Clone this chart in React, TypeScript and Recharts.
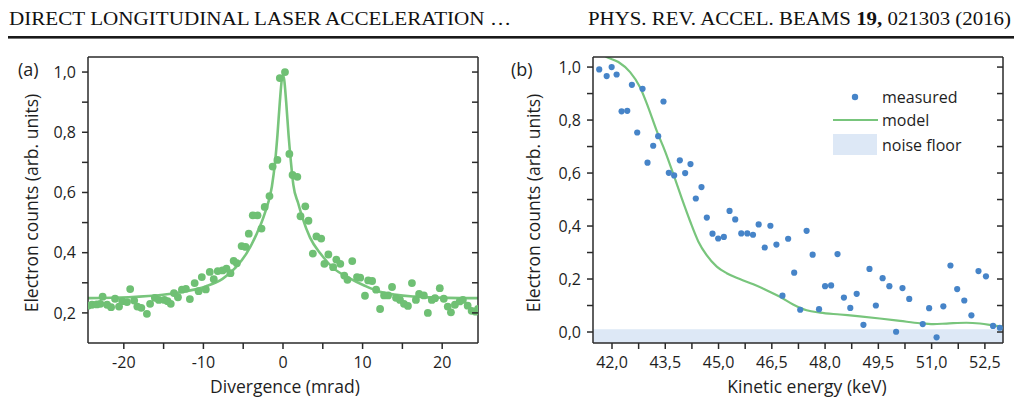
import React from 'react';
import { ComposedChart, Scatter, Line, XAxis, YAxis, ReferenceArea, Legend } from 'recharts';

// ---------- Panel (a): divergence ----------
const divergenceX = [-24.5,-24.0,-23.4,-22.95,-22.66,-22.1,-21.6,-21.1,-20.6,-20.2,-19.6,-19.2,-18.7,-18.3,-17.8,-17.1,-16.7,-16.1,-15.6,-14.9,-14.5,-14.1,-13.7,-13.2,-12.7,-12.2,-11.7,-11.1,-10.6,-10.2,-9.7,-9.2,-8.7,-8.2,-7.6,-7.1,-6.6,-6.2,-5.8,-5.2,-4.7,-4.3,-3.8,-3.2,-2.7,-2.3,-1.7,-1.3,-0.7,-0.4,0.25,0.8,1.2,1.8,2.2,2.8,3.2,3.75,4.2,4.8,5.2,5.7,6.3,6.7,7.2,7.7,8.1,8.7,9.3,9.7,10.3,10.7,11.2,11.7,12.2,12.7,13.2,13.7,14.2,14.7,15.2,15.7,16.2,16.7,17.1,17.7,18.2,18.7,19.1,19.7,20.2,20.7,21.1,21.6,22.2,22.6,23.2,23.7,24.2,24.5];
const divergenceCounts = [0.224,0.227,0.228,0.230,0.254,0.227,0.219,0.247,0.221,0.239,0.236,0.279,0.241,0.221,0.217,0.197,0.230,0.250,0.243,0.243,0.239,0.230,0.266,0.252,0.277,0.280,0.246,0.299,0.272,0.319,0.278,0.336,0.312,0.339,0.341,0.347,0.332,0.373,0.365,0.422,0.419,0.463,0.524,0.524,0.480,0.552,0.588,0.686,0.708,0.980,1.0,0.728,0.658,0.652,0.521,0.554,0.506,0.397,0.454,0.447,0.363,0.394,0.352,0.377,0.363,0.324,0.310,0.372,0.319,0.317,0.257,0.308,0.306,0.277,0.213,0.258,0.258,0.286,0.250,0.243,0.230,0.223,0.299,0.243,0.263,0.258,0.200,0.243,0.249,0.282,0.247,0.221,0.202,0.227,0.238,0.243,0.224,0.207,0.204,0.213];
const fitX = [-24.5,-19.4,-15.1,-12.2,-9.7,-7.6,-5.9,-4.6,-3.3,-2.3,-1.4,-1.0,-0.7,-0.4,-0.15,0,0.15,0.4,0.7,1.0,1.3,1.9,2.4,3.4,4.7,6.4,8.1,10.2,12.3,16.5,20.7,24.5];
const fitY = [0.249,0.252,0.260,0.272,0.288,0.313,0.352,0.397,0.463,0.530,0.619,0.70,0.79,0.90,0.975,0.99,0.975,0.90,0.79,0.70,0.625,0.565,0.52,0.45,0.397,0.347,0.319,0.291,0.269,0.254,0.250,0.249];
const divTicks = [-20,-15,-10,-5,0,5,10,15,20];
const divLabelTicks = [-20,-10,0,10,20];
const countTicksA = [0.2,0.3,0.4,0.5,0.6,0.7,0.8,0.9,1.0];
const countLabelTicksA = [0.2,0.4,0.6,0.8,1.0];

// ---------- Panel (b): kinetic energy ----------
const energyX = [41.64,41.85,41.99,42.13,42.27,42.43,42.56,42.71,42.86,43.0,43.16,43.30,43.45,43.60,43.75,43.91,44.06,44.21,44.36,44.52,44.67,44.83,44.99,45.15,45.31,45.47,45.64,45.81,45.97,46.13,46.30,46.46,46.63,46.80,46.96,47.13,47.30,47.48,47.65,47.83,48.0,48.17,48.35,48.53,48.71,48.89,49.08,49.25,49.43,49.62,49.81,50.0,50.18,50.37,50.75,50.93,51.14,51.33,51.53,51.72,51.92,52.12,52.32,52.53,52.73,52.92];
const energyCounts = [0.991,0.966,1.0,0.972,0.833,0.835,0.933,0.753,0.918,0.639,0.703,0.739,0.870,0.601,0.591,0.648,0.600,0.634,0.504,0.547,0.432,0.371,0.353,0.359,0.457,0.425,0.372,0.372,0.367,0.406,0.319,0.401,0.330,0.137,0.352,0.224,0.084,0.382,0.292,0.086,0.173,0.176,0.294,0.130,0.091,0.144,0.027,0.238,0.100,0.203,0.173,0.001,0.166,0.125,0.030,0.090,-0.020,0.097,0.251,0.162,0.119,0.063,0.230,0.210,0.023,0.016];
const modelX = [41.7,41.85,42.18,42.51,42.79,43.02,43.26,43.49,43.73,43.96,44.20,44.43,44.66,44.95,45.23,45.60,45.98,46.35,46.73,47.10,47.48,47.86,48.42,48.98,49.54,50.11,50.67,51.05,51.42,51.98,52.36,52.73,53.02];
const modelY = [1.05,1.038,1.019,0.981,0.924,0.848,0.759,0.684,0.595,0.506,0.418,0.342,0.291,0.247,0.222,0.200,0.180,0.158,0.133,0.104,0.082,0.073,0.066,0.059,0.051,0.042,0.033,0.030,0.032,0.035,0.032,0.025,0.019];
const energyTicks = [42,42.75,43.5,44.25,45,45.75,46.5,47.25,48,48.75,49.5,50.25,51,51.75,52.5];
const energyLabelTicks = [42,43.5,45,46.5,48,49.5,51,52.5];
const countTicksB = [0,0.1,0.2,0.3,0.4,0.5,0.6,0.7,0.8,0.9,1.0];
const countLabelTicksB = [0,0.2,0.4,0.6,0.8,1.0];
const noiseFloor = [-0.0415, 0.01];
const legendLabels = ['measured', 'model', 'noise floor'];

const zip = (xs: number[], ys: number[]) => xs.map((x, i) => ({ x, y: ys[i] }));
const pointsA = zip(divergenceX, divergenceCounts);
const curveA = zip(fitX, fitY);
const pointsB = zip(energyX, energyCounts);
const curveB = zip(modelX, modelY);

const near = (v: number, list: number[]) => list.some((t) => Math.abs(t - v) < 1e-6);
const comma = (v: number) => v.toFixed(1).replace('.', ',');
const fmtComma = (list: number[]) => (v: number) => (near(v, list) ? comma(v) : '');
const fmtInt = (list: number[]) => (v: number) => (near(v, list) ? String(Math.round(v)) : '');

const AX = '#2a2a2a';
const FONT = "'Open Sans', 'Noto Sans', sans-serif";
const tickStyle = { fill: '#1e1e1e', fontSize: 16, fontFamily: FONT };
const GREEN_DOT = '#6fc074';
const GREEN_LINE = '#78c57c';
const BLUE_DOT = '#4684c8';
const NOISE = '#dde8f6';

// inward tick marks for the top and right frame axes
const TopTick = (p: any) => <line x1={p.x} x2={p.x} y1={p.y} y2={p.y + 6} stroke={AX} strokeWidth={1.5} />;
const RightTick = (p: any) => <line x1={p.x - 6} x2={p.x} y1={p.y} y2={p.y} stroke={AX} strokeWidth={1.5} />;

const LegendBox = () => (
  <svg width={180} height={80} style={{ display: 'block' }}>
    <circle cx={22} cy={15} r={3.2} fill={BLUE_DOT} />
    <text x={49} y={15} dominantBaseline="central" fontSize={16} fontFamily={FONT} fill="#1e1e1e">{legendLabels[0]}</text>
    <line x1={0} x2={45} y1={38} y2={38} stroke={GREEN_LINE} strokeWidth={2.2} />
    <text x={49} y={38} dominantBaseline="central" fontSize={16} fontFamily={FONT} fill="#1e1e1e">{legendLabels[1]}</text>
    <rect x={0} y={52} width={44} height={21} fill={NOISE} />
    <text x={49} y={63} dominantBaseline="central" fontSize={16} fontFamily={FONT} fill="#1e1e1e">{legendLabels[2]}</text>
  </svg>
);

const axisLineStyle = { stroke: AX, strokeWidth: 1.5 };

export default function App() {
  return (
    <div style={{ position: 'absolute', left: 0, top: 0, width: 1014, height: 400, background: '#fff', overflow: 'hidden' }}>
      <div style={{ position: 'absolute', left: 0, top: 0 }}>
        <ComposedChart width={500} height={400} margin={{ top: 55, right: 20, bottom: 27, left: 28 }}>
          <XAxis xAxisId="b" type="number" dataKey="x" domain={[-24.5, 24.5]} allowDataOverflow ticks={divTicks}
            tickFormatter={fmtInt(divLabelTicks)} tick={tickStyle} tickSize={6} tickMargin={8}
            axisLine={axisLineStyle} tickLine={axisLineStyle} height={30} />
          <XAxis xAxisId="t" orientation="top" type="number" domain={[-24.5, 24.5]} allowDataOverflow ticks={divTicks}
            tick={TopTick} tickLine={false} tickSize={0} tickMargin={0} height={2} axisLine={axisLineStyle} interval={0} />
          <YAxis yAxisId="l" type="number" dataKey="y" domain={[0.1, 1.05]} allowDataOverflow ticks={countTicksA}
            tickFormatter={fmtComma(countLabelTicksA)} tick={tickStyle} tickSize={6} tickMargin={6} width={60}
            axisLine={axisLineStyle} tickLine={axisLineStyle} interval={0} />
          <YAxis yAxisId="r" orientation="right" type="number" domain={[0.1, 1.05]} allowDataOverflow ticks={countTicksA}
            tick={RightTick} tickLine={false} tickSize={0} tickMargin={0} width={2} axisLine={axisLineStyle} interval={0} />
          <Scatter xAxisId="b" yAxisId="l" data={pointsA} dataKey="y" isAnimationActive={false}
            shape={(p: any) => <circle cx={p.cx} cy={p.cy} r={3.9} fill={GREEN_DOT} />} />
          <Line xAxisId="b" yAxisId="l" data={curveA} dataKey="y" type="monotone" stroke={GREEN_LINE} strokeWidth={2.6}
            dot={false} activeDot={false} isAnimationActive={false} />
        </ComposedChart>
      </div>
      <div style={{ position: 'absolute', left: 500, top: 0 }}>
        <ComposedChart width={514} height={400} margin={{ top: 55, right: 9, bottom: 27, left: 33 }}>
          <XAxis xAxisId="b" type="number" dataKey="x" domain={[41.465, 53.01]} allowDataOverflow ticks={energyTicks}
            tickFormatter={fmtComma(energyLabelTicks)} tick={tickStyle} tickSize={6} tickMargin={8}
            axisLine={axisLineStyle} tickLine={axisLineStyle} height={30} interval={0} />
          <XAxis xAxisId="t" orientation="top" type="number" domain={[41.465, 53.01]} allowDataOverflow ticks={energyTicks}
            tick={TopTick} tickLine={false} tickSize={0} tickMargin={0} height={2} axisLine={axisLineStyle} interval={0} />
          <YAxis yAxisId="l" type="number" dataKey="y" domain={[-0.0415, 1.038]} allowDataOverflow ticks={countTicksB}
            tickFormatter={fmtComma(countLabelTicksB)} tick={tickStyle} tickSize={6} tickMargin={6} width={60}
            axisLine={axisLineStyle} tickLine={axisLineStyle} interval={0} />
          <YAxis yAxisId="r" orientation="right" type="number" domain={[-0.0415, 1.038]} allowDataOverflow ticks={countTicksB}
            tick={RightTick} tickLine={false} tickSize={0} tickMargin={0} width={2} axisLine={axisLineStyle} interval={0} />
          <ReferenceArea xAxisId="b" yAxisId="l" x1={41.465} x2={53.01} y1={noiseFloor[0]} y2={noiseFloor[1]}
            fill={NOISE} fillOpacity={1} stroke="none" ifOverflow="hidden" />
          <Line xAxisId="b" yAxisId="l" data={curveB} dataKey="y" type="monotone" stroke={GREEN_LINE} strokeWidth={2.2}
            dot={false} activeDot={false} isAnimationActive={false} />
          <Scatter xAxisId="b" yAxisId="l" data={pointsB} dataKey="y" isAnimationActive={false}
            shape={(p: any) => <circle cx={p.cx} cy={p.cy} r={3.1} fill={BLUE_DOT} />} />
          <Legend layout="horizontal" verticalAlign="middle" align="center" content={() => <LegendBox />}
            wrapperStyle={{ position: 'absolute', left: 333, top: 82, width: 180, height: 80 }} />
        </ComposedChart>
      </div>
      <svg width={1014} height={400} style={{ position: 'absolute', left: 0, top: 0, pointerEvents: 'none' }}>
        <text x={9} y={25} fontFamily="'Liberation Serif', 'DejaVu Serif', serif" fontSize={18} fill="#111"
          textLength={502} lengthAdjust="spacingAndGlyphs">DIRECT LONGITUDINAL LASER ACCELERATION …</text>
        <text x={588} y={25} fontFamily="'Liberation Serif', 'DejaVu Serif', serif" fontSize={18} fill="#111"
          textLength={423} lengthAdjust="spacingAndGlyphs">PHYS. REV. ACCEL. BEAMS <tspan fontWeight="bold">19,</tspan> 021303 (2016)</text>
        <rect x={8} y={36} width={1006} height={2.6} fill="#1a1a1a" />
        <text x={18} y={76} fontFamily={FONT} fontSize={18} fill="#1e1e1e">(a)</text>
        <text x={511} y={76} fontFamily={FONT} fontSize={18} fill="#1e1e1e">(b)</text>
        <text x={31} y={203} transform="rotate(-90 31 203)" textAnchor="middle" dominantBaseline="central"
          fontFamily={FONT} fontSize={17.5} fill="#1e1e1e">Electron counts (arb. units)</text>
        <text x={533} y={203} transform="rotate(-90 533 203)" textAnchor="middle" dominantBaseline="central"
          fontFamily={FONT} fontSize={17.5} fill="#1e1e1e">Electron counts (arb. units)</text>
        <text x={285} y={393} textAnchor="middle" fontFamily={FONT} fontSize={17.5} fill="#1e1e1e">Divergence (mrad)</text>
        <text x={807} y={393} textAnchor="middle" fontFamily={FONT} fontSize={17.5} fill="#1e1e1e">Kinetic energy (keV)</text>
      </svg>
    </div>
  );
}
